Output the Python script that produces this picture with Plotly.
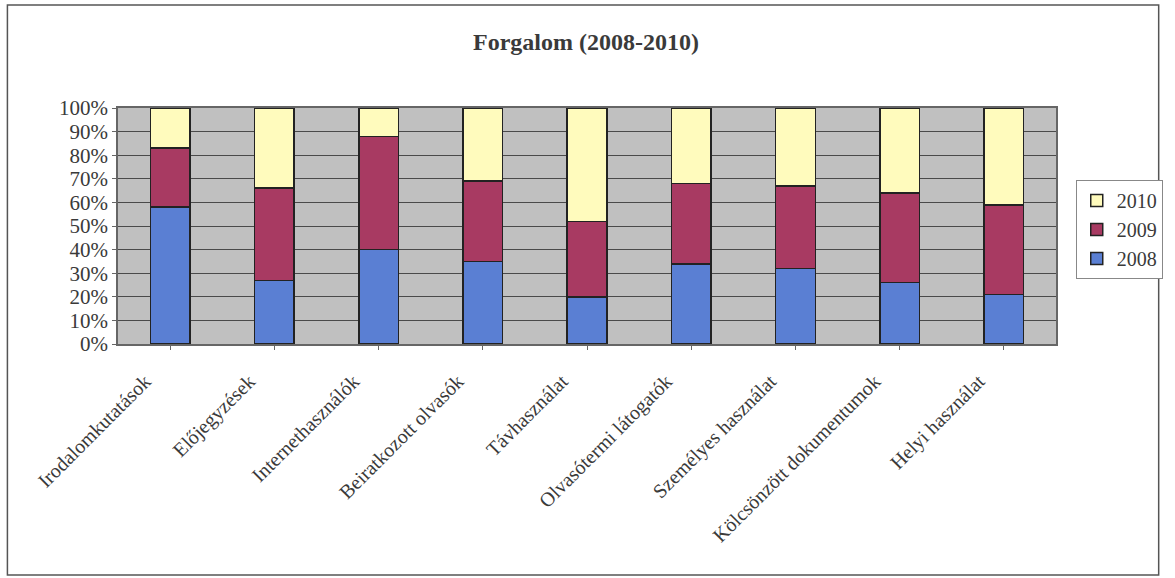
import plotly.graph_objects as go

categories = ["Irodalomkutatások", "Előjegyzések", "Internethasználók", "Beiratkozott olvasók",
              "Távhasználat", "Olvasótermi látogatók", "Személyes használat",
              "Kölcsönzött dokumentumok", "Helyi használat"]
y2008 = [58, 27, 40, 35, 20, 34, 32, 26, 21]
y2009 = [25, 39, 48, 34, 32, 34, 35, 38, 38]
y2010 = [17, 34, 12, 31, 48, 32, 33, 36, 41]
yticks = [0, 10, 20, 30, 40, 50, 60, 70, 80, 90, 100]
yticklabels = [f"{v}%" for v in yticks]

FONT = "Liberation Serif, Times New Roman, serif"
series = [("2008", y2008, "#5a7fd3"), ("2009", y2009, "#a83a62"), ("2010", y2010, "#fffbbd")]

fig = go.Figure()
for name, vals, col in series:
    fig.add_trace(go.Bar(x=categories, y=vals, name=name, marker_color=col,
                         marker_line_color="#222222", marker_line_width=1.5))

W, H = 1175, 578
L, R, T, B = 118, 1068, 108, 344
pw, ph = R - L, B - T


def px(x):
    return (x - L) / pw


def py(y):
    return (B - y) / ph


fig.update_layout(
    width=W, height=H,
    barmode="stack", barnorm="percent", bargap=0.62,
    paper_bgcolor="white", plot_bgcolor="#c0c0c0",
    margin=dict(l=L, r=W - R, t=T, b=H - B, pad=0),
    font=dict(family=FONT, color="#3a3a3a", size=20),
    title=dict(text="<b>Forgalom (2008-2010)</b>", x=px(592), xref="paper",
               xanchor="center", y=1 - 42 / H, yanchor="middle",
               font=dict(family=FONT, size=24, color="#3a3a3a")),
    legend=dict(x=px(1088), y=py(180), xanchor="left", yanchor="top",
                traceorder="reversed", bordercolor="#888888", borderwidth=1,
                bgcolor="white", font=dict(family=FONT, size=20, color="#3a3a3a"),
                itemwidth=30),
    showlegend=True,
)
fig.update_xaxes(showgrid=False, showline=True, linecolor="#666666", linewidth=1.5,
                 mirror=True, ticks="outside", ticklen=4, tickcolor="#666666",
                 tickangle=-45, ticklabelshift=-25, ticklabelstandoff=12,
                 tickfont=dict(family=FONT, size=20, color="#3a3a3a"))
fig.update_yaxes(range=[0, 100], tickvals=yticks, ticktext=yticklabels,
                 showgrid=True, gridcolor="#4a4a4a", gridwidth=1.2,
                 showline=True, linecolor="#666666", linewidth=1.5, mirror=True,
                 ticks="outside", ticklen=4, tickcolor="#666666",
                 tickfont=dict(family=FONT, size=21, color="#3a3a3a"), zeroline=False)
fig.add_shape(type="rect", xref="paper", yref="paper",
              x0=px(6), x1=px(1172), y0=py(575), y1=py(5),
              line=dict(color="#555555", width=1.5), fillcolor="rgba(0,0,0,0)", layer="below")
fig.write_html("out.html", config={"displayModeBar": False},
               post_script="document.body.style.margin='0';document.body.style.overflow='hidden';")
